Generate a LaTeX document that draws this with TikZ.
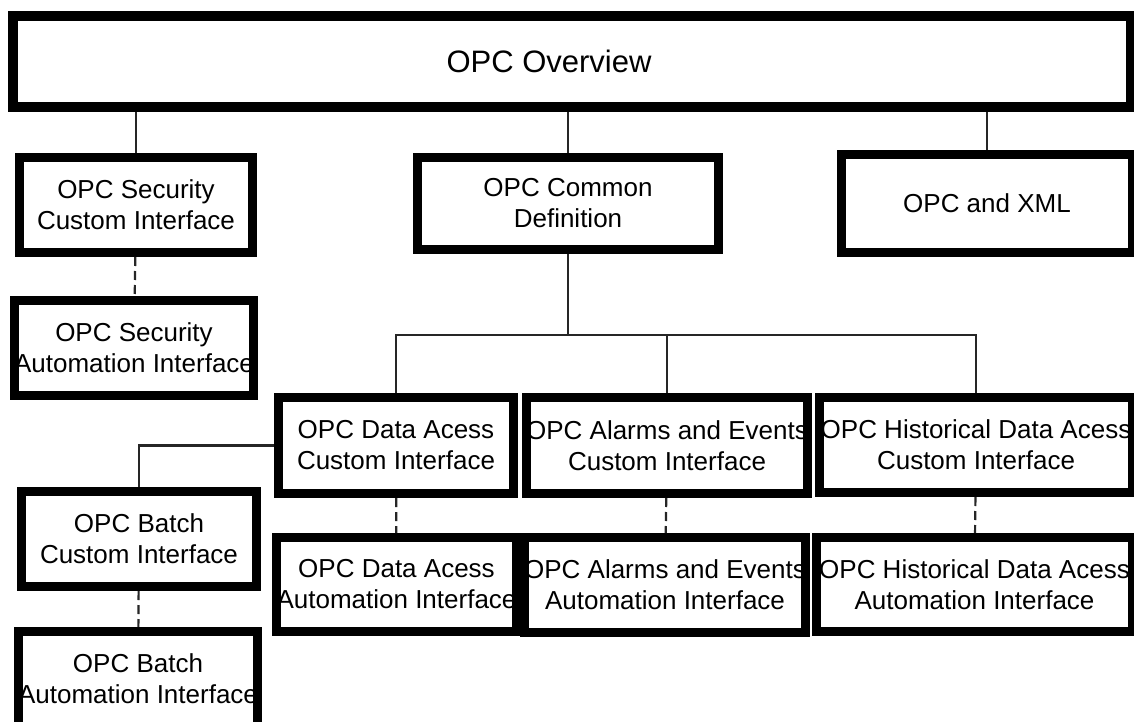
\documentclass[tikz,border=0pt]{standalone}
\usepackage{fontspec}
\setmainfont{Liberation Sans}
\usepackage{amsmath}

\begin{document}
\begin{tikzpicture}[x=1pt, y=-1pt,
		box/.style={draw, line width=9pt, inner sep=0pt, align=center, font=\fontsize{26}{31}\selectfont},
		link/.style={line width=2.2pt, black!85},
		dashlink/.style={link, dash pattern=on 9pt off 5pt}]
				\useasboundingbox[fill=white] (0,0) rectangle (1134,722);
				\node[box, line width=10pt, minimum width=1118pt, minimum height=91pt, font=\fontsize{31}{37}\selectfont] (overview)at(572, 61.5) {\hspace*{-46pt}OPC Overview};
				\node[box, minimum width=233pt, minimum height=95pt] (secCustom)at(136, 205) {OPC Security\\Custom Interface};
				\node[box, minimum width=301pt, minimum height=92pt] (common)at(568, 203.5) {OPC Common\\Definition};
				\node[box, minimum width=291pt, minimum height=98pt] (xml)at(987, 203.5) {OPC and XML};
				\node[box, minimum width=237pt, minimum height=95pt] (secAuto)at(134, 348) {OPC Security\\Automation Interface};
				\node[box, minimum width=235pt, minimum height=96pt] (dataCustom)at(396, 445.5) {OPC Data Acess\\Custom Interface};
				\node[box, minimum width=273pt, minimum height=96pt] (alarmCustom)at(667, 445.5) {OPC Alarms and Events\\Custom Interface};
				\node[box, minimum width=313pt, minimum height=95pt] (histCustom)at(976, 445) {OPC Historical Data Acess\\Custom Interface};
				\node[box, minimum width=235pt, minimum height=95pt] (batchCustom)at(139, 539) {OPC Batch\\Custom Interface};
				\node[box, minimum width=232pt, minimum height=94pt] (dataAuto)at(396.5, 584.5) {OPC Data Acess\\Automation Interface};
				\node[box, minimum width=269pt, minimum height=95pt] (alarmAuto)at(665, 585) {OPC Alarms and Events\\Automation Interface};
				\node[box, minimum width=316pt, minimum height=94pt] (histAuto)at(974.5, 584.5) {OPC Historical Data Acess\\Automation Interface};
				\node[box, minimum width=229pt, minimum height=95pt] (batchAuto)at(138, 679) {OPC Batch\\Automation Interface};
				\coordinate (bus)at(568, 335);
				\draw[link] (overview.south -| secCustom.north) -- (secCustom.north);
				\draw[link] (overview.south -| common.north) -- (common.north);
				\draw[link] (overview.south -| xml.north) -- (xml.north);
				\draw[link] (common.south) -- (bus);
				\draw[link] (dataCustom.north) -- (dataCustom.north |- bus) -- (histCustom.north |- bus) -- (histCustom.north);
				\draw[link] (alarmCustom.north |- bus) -- (alarmCustom.north);
				\draw[link] (dataCustom.west) -| (batchCustom.north);
				\draw[dashlink] (secCustom) -- (secAuto);
				\draw[dashlink] (dataCustom) -- (dataAuto);
				\draw[dashlink] (alarmCustom) -- (alarmAuto);
				\draw[dashlink] (histCustom) -- (histAuto);
				\draw[dashlink] (batchCustom) -- (batchAuto);
			\end{tikzpicture}
\end{document}
